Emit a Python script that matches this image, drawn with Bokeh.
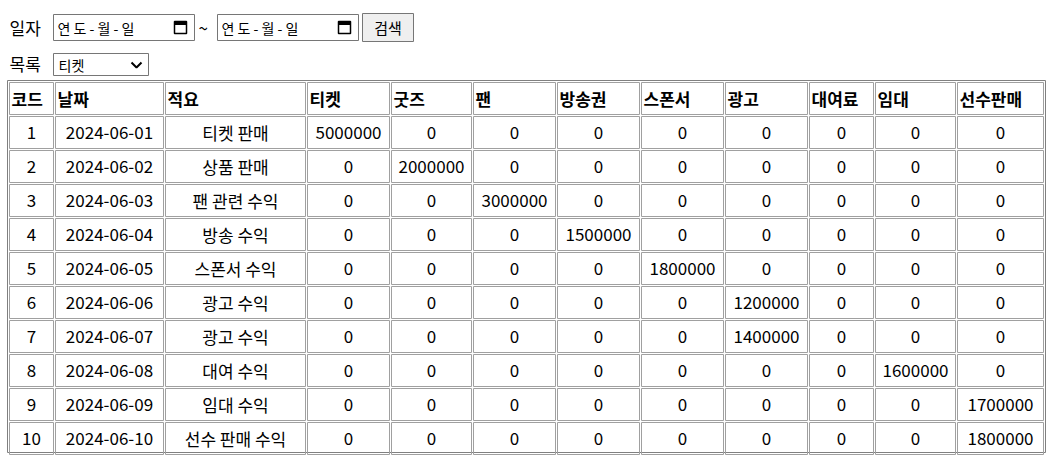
from bokeh.plotting import figure
from bokeh.core.properties import value
from bokeh.embed import file_html
from bokeh.resources import INLINE

headers = ["코드", "날짜", "적요", "티켓", "굿즈", "팬", "방송권", "스폰서", "광고", "대여료", "임대", "선수판매"]
codes = [str(i) for i in range(1, 11)]
dates = ["2024-06-%02d" % i for i in range(1, 11)]
memos = ["티켓 판매", "상품 판매", "팬 관련 수익", "방송 수익", "스폰서 수익",
         "광고 수익", "광고 수익", "대여 수익", "임대 수익", "선수 판매 수익"]
# (column index among amount columns, amount) per row
amounts = [(0, 5000000), (1, 2000000), (2, 3000000), (3, 1500000), (4, 1800000),
           (5, 1200000), (5, 1400000), (7, 1600000), (8, 1700000), (8, 1800000)]

# layout (screen pixels)
col_left = [9, 55, 165, 307, 391, 473, 557, 641, 725, 809, 875, 957]
col_right = [53, 163, 305, 389, 471, 555, 639, 723, 807, 873, 955, 1043]
row_top = [82 + 34 * i for i in range(11)]
row_h = 32
FONT = value("Noto Sans CJK KR")

p = figure(width=1050, height=466, x_range=(0, 1050), y_range=(466, 0),
           output_backend="svg", toolbar_location=None, min_border=0)
p.axis.visible = False
p.grid.visible = False
p.outline_line_color = None

# outer table border
p.quad(left=[7], right=[1045], top=[80], bottom=[452], fill_color=None, line_color="#808080")

cl, cr, ct, cb = [], [], [], []
tx, ty, tt = [], [], []
for r in range(11):
    for c in range(12):
        cl.append(col_left[c]); cr.append(col_right[c])
        ct.append(row_top[r]); cb.append(row_top[r] + row_h)
for c, h in enumerate(headers):
    tx.append(col_left[c] + 2); ty.append(row_top[0] + row_h / 2); tt.append(h)
for r in range(10):
    vals = [codes[r], dates[r], memos[r]] + ["0"] * 9
    ci, amt = amounts[r]
    vals[3 + ci] = str(amt)
    for c, v in enumerate(vals):
        tx.append((col_left[c] + col_right[c]) / 2)
        ty.append(row_top[r + 1] + row_h / 2); tt.append(v)

p.quad(left=cl, right=cr, top=ct, bottom=cb, fill_color=None, line_color="#a0a0a0")
p.text(x=tx[:12], y=ty[:12], text=tt[:12], text_font=FONT, text_font_size="17px",
       text_font_style="bold", text_baseline="middle", text_align="left", text_color="black")
p.text(x=tx[12:], y=ty[12:], text=tt[12:], text_font=FONT, text_font_size="17px",
       text_baseline="middle", text_align="center", text_color="black")

# form controls
p.text(x=[9, 9, 198], y=[27, 63, 27], text=["일자", "목록", "~"], text_font=FONT,
       text_font_size="17px", text_baseline="middle", text_color="black")
p.quad(left=[53, 217], right=[194, 358], top=[14, 14], bottom=[40, 40], fill_color="white",
       line_color="#767676")
p.text(x=[57, 221], y=[27, 27], text=["연 도 - 월 - 일"] * 2, text_font=FONT,
       text_font_size="14px", text_baseline="middle", text_color="black")
p.quad(left=[174, 338], right=[186, 350], top=[21, 21], bottom=[33, 33], fill_color=None,
       line_color="black", line_width=1.5)
p.quad(left=[174, 338], right=[186, 350], top=[21, 21], bottom=[24, 24], fill_color="black",
       line_color="black")
p.quad(left=[362], right=[413], top=[13], bottom=[41], fill_color="#efefef",
       line_color="#767676")
p.text(x=[387.5], y=[27], text=["검색"], text_font=FONT, text_font_size="15px",
       text_baseline="middle", text_align="center", text_color="black")
p.quad(left=[53], right=[148], top=[53], bottom=[75], fill_color="white", line_color="#767676")
p.text(x=[58], y=[64], text=["티켓"], text_font=FONT, text_font_size="14px",
       text_baseline="middle", text_color="black")
p.line(x=[131, 136, 141], y=[62, 67, 62], line_color="black", line_width=2)

open("out.html", "w").write(file_html(p, INLINE))
